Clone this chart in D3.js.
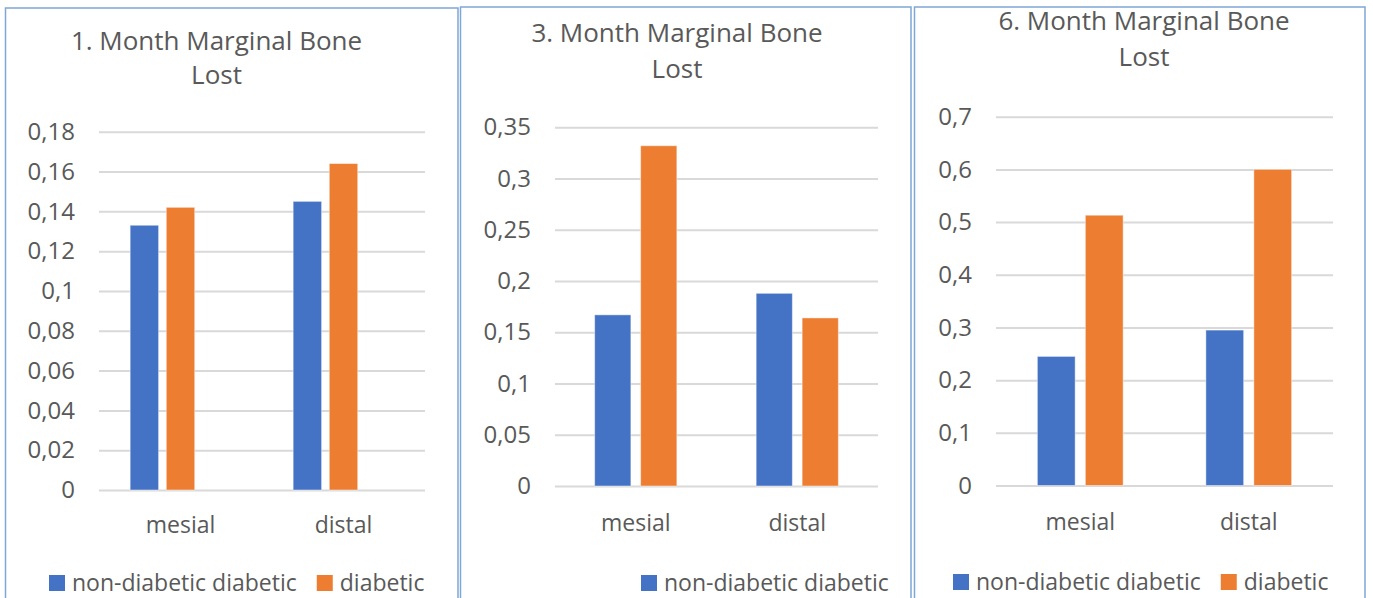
<!DOCTYPE html>
<html>
<head>
<meta charset="utf-8">
<script src="https://cdn.jsdelivr.net/npm/d3@7"></script>
<style>
  html, body { margin: 0; padding: 0; background: #fff; }
  svg { display: block; }
  text { font-family: "Open Sans", "Noto Sans", sans-serif; fill: #595959; }
</style>
</head>
<body>
<svg id="chart" width="1373" height="598"></svg>
<script>
// Marginal bone loss at 1, 3 and 6 months, mesial vs distal
const categories = ["mesial", "distal"];
const seriesNames = ["non-diabetic diabetic", "diabetic"];
const seriesColors = ["#4472C4", "#ED7D31"];

const month1NonDiabetic = [0.133, 0.145];
const month1Diabetic    = [0.142, 0.164];
const month3NonDiabetic = [0.167, 0.188];
const month3Diabetic    = [0.332, 0.164];
const month6NonDiabetic = [0.245, 0.295];
const month6Diabetic    = [0.513, 0.600];

const month1Ticks = [0, 0.02, 0.04, 0.06, 0.08, 0.1, 0.12, 0.14, 0.16, 0.18];
const month3Ticks = [0, 0.05, 0.1, 0.15, 0.2, 0.25, 0.3, 0.35];
const month6Ticks = [0, 0.1, 0.2, 0.3, 0.4, 0.5, 0.6, 0.7];

const month1Title = ["1. Month Marginal Bone", "Lost"];
const month3Title = ["3. Month Marginal Bone", "Lost"];
const month6Title = ["6. Month Marginal Bone", "Lost"];

// comma as decimal separator
const fmt = d3.formatLocale({ decimal: ",", thousands: ".", grouping: [3], currency: ["", ""] }).format("~g");

const GAP_WIDTH = 2.19;   // gap between category groups, in bar widths
const OVERLAP = 0.27;     // gap between bars of a group, in bar widths

const panels = [
  { title: month1Title, series: [month1NonDiabetic, month1Diabetic], ticks: month1Ticks,
    slots: 3, // this chart keeps room for a third (empty) series
    box: { x0: 5.5, y0: 8, x1: 458 },
    plot: { left: 99, right: 425, bottom: 490, top: 131.7 },
    titleX: 216.5, titleY: [50, 84], catY: 533,
    legendX: 49, legendY: 591 },
  { title: month3Title, series: [month3NonDiabetic, month3Diabetic], ticks: month3Ticks,
    slots: 2,
    box: { x0: 460.5, y0: 7, x1: 911 },
    plot: { left: 555, right: 878, bottom: 486, top: 127.3 },
    titleX: 677, titleY: [42, 78], catY: 531,
    legendX: 641, legendY: 591 },
  { title: month6Title, series: [month6NonDiabetic, month6Diabetic], ticks: month6Ticks,
    slots: 2,
    box: { x0: 914.5, y0: 7, x1: 1365 },
    plot: { left: 996, right: 1333, bottom: 485.5, top: 116.7 },
    titleX: 1144, titleY: [30, 66], catY: 530,
    legendX: 953, legendY: 590 }
];

const svg = d3.select("#chart");

panels.forEach(p => {
  const g = svg.append("g");

  // chart frame (runs past the bottom edge)
  g.append("rect")
    .attr("x", p.box.x0).attr("y", p.box.y0)
    .attr("width", p.box.x1 - p.box.x0).attr("height", 640)
    .attr("fill", "#fff").attr("stroke", "#7EA6D6").attr("stroke-width", 1.5);

  // title
  const t = g.append("text").attr("text-anchor", "middle").style("font-size", "26px");
  p.title.forEach((line, i) => {
    t.append("tspan").attr("x", p.titleX).attr("y", p.titleY[i]).text(line);
  });

  const pi = GAP_WIDTH / (p.slots + (p.slots - 1) * OVERLAP + GAP_WIDTH);
  const x0 = d3.scaleBand().domain(categories)
    .range([p.plot.left, p.plot.right])
    .paddingInner(pi).paddingOuter(pi / 2);
  const x1 = d3.scaleBand().domain(d3.range(p.slots))
    .range([0, x0.bandwidth()])
    .paddingInner(OVERLAP / (1 + OVERLAP));
  const y = d3.scaleLinear()
    .domain([0, d3.max(p.ticks)])
    .range([p.plot.bottom, p.plot.top]);

  // gridlines + value labels
  const yAxis = g.append("g")
    .attr("transform", `translate(${p.plot.left},0)`)
    .call(d3.axisLeft(y).tickValues(p.ticks).tickFormat(fmt)
      .tickSize(-(p.plot.right - p.plot.left)).tickPadding(24));
  yAxis.select(".domain").remove();
  yAxis.selectAll(".tick line").attr("stroke", "#D9D9D9").attr("stroke-width", 2);
  yAxis.selectAll(".tick text").style("font-size", "24px").attr("fill", "#595959")
    .style("font-family", '"Open Sans", "Noto Sans", sans-serif');

  // bars
  p.series.forEach((vals, si) => {
    g.append("g").selectAll("rect")
      .data(vals)
      .join("rect")
      .attr("x", (d, i) => x0(categories[i]) + x1(si))
      .attr("width", x1.bandwidth())
      .attr("y", d => y(d))
      .attr("height", d => y(0) - y(d))
      .attr("fill", seriesColors[si])
      .attr("stroke", "#fff").attr("stroke-opacity", 0.45).attr("stroke-width", 1);
  });

  // category labels
  g.append("g").selectAll("text")
    .data(categories)
    .join("text")
    .attr("x", d => x0(d) + x0.bandwidth() / 2)
    .attr("y", p.catY)
    .attr("text-anchor", "middle")
    .style("font-size", "23px")
    .text(d => d);

  // legend on a single row; entries past the frame's right edge are left out
  let lx = p.legendX;
  seriesNames.forEach((name, si) => {
    const item = g.append("g");
    const txt = item.append("text").attr("x", 23).attr("y", 0)
      .style("font-size", "23px").text(name);
    const w = 23 + txt.node().getComputedTextLength();
    if (lx + w > p.box.x1) { item.remove(); return; }
    item.insert("rect", "text")
      .attr("x", 0).attr("y", -16).attr("width", 16).attr("height", 16)
      .attr("fill", seriesColors[si]);
    item.attr("transform", `translate(${lx},${p.legendY})`);
    lx += w + 20;
  });
});
</script>
</body>
</html>
